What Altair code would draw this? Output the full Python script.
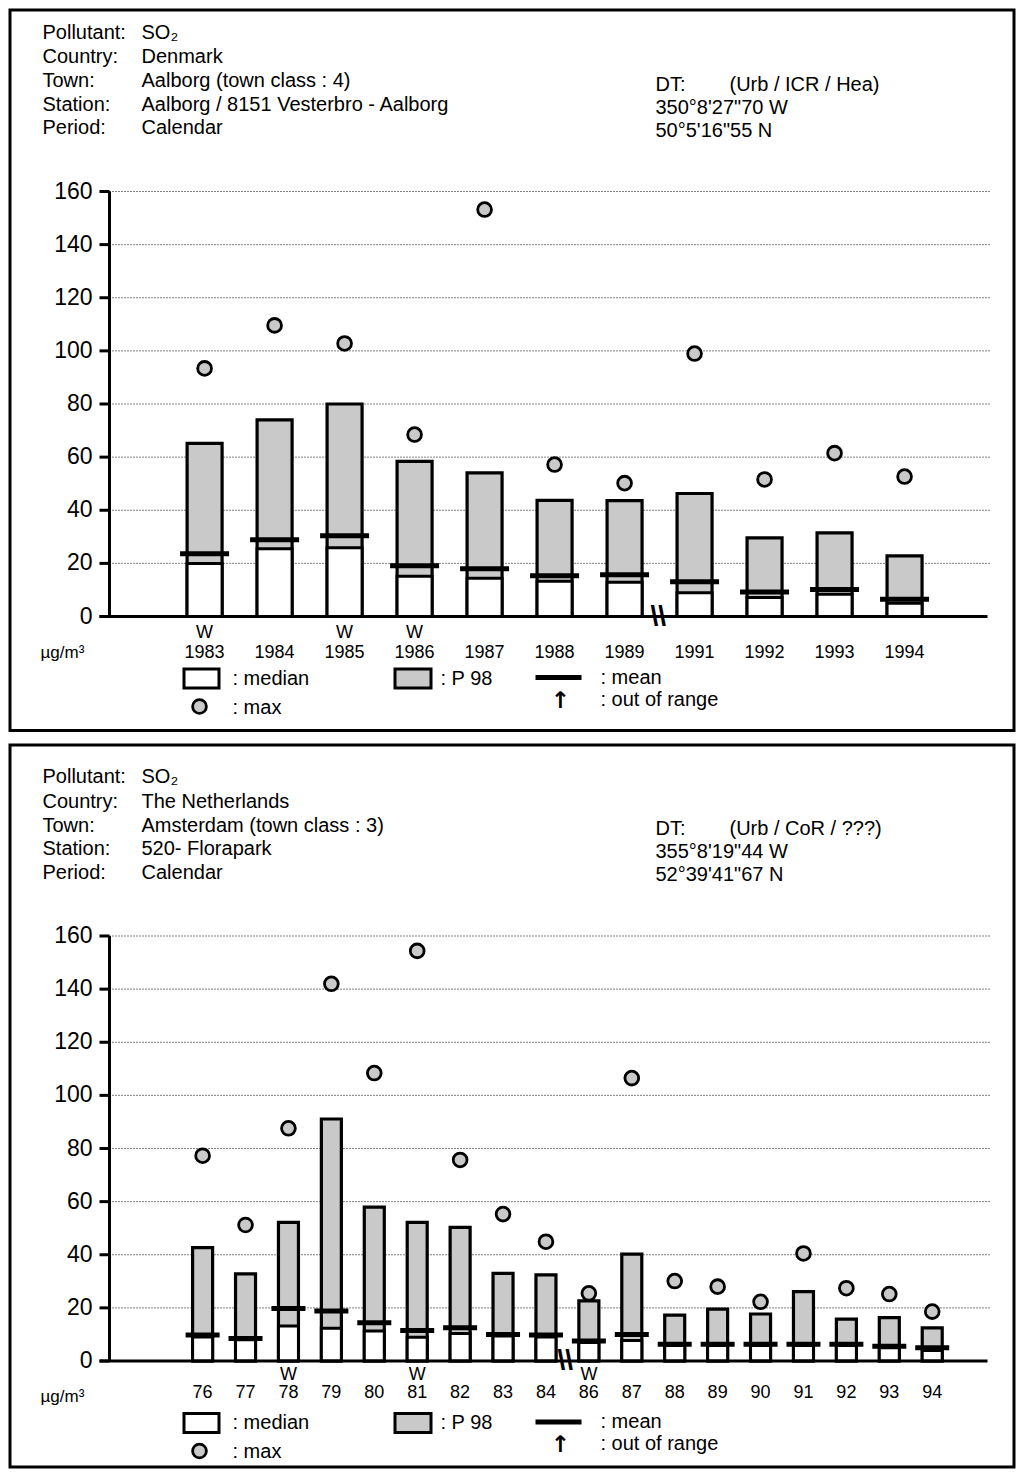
import altair as alt
import pandas as pd

FONT = "Liberation Sans"
GRAY = "#c9c9c9"
K = 425 / 160.0          # pixels per µg/m3
W = 1004                 # panel width

y_ticks = [0, 20, 40, 60, 80, 100, 120, 140, 160]

# ---------------- Panel 1 : Aalborg ----------------
dk_years = ["1983", "1984", "1985", "1986", "1987", "1988", "1989", "1991", "1992", "1993", "1994"]
dk_p98 = [65.2, 74.0, 80.0, 58.4, 54.1, 43.7, 43.6, 46.3, 29.6, 31.5, 22.8]
dk_median = [20.0, 25.5, 25.9, 15.2, 14.4, 13.3, 12.9, 8.9, 7.2, 8.4, 5.0]
dk_mean = [23.6, 28.9, 30.4, 19.1, 18.0, 15.3, 15.7, 13.1, 9.2, 10.2, 6.5]
dk_max = [93.4, 109.6, 102.8, 68.5, 153.2, 57.2, 50.2, 99.0, 51.6, 61.5, 52.7]
dk_w = ["1983", "1985", "1986"]
dk_head = ["SO₂", "Denmark", "Aalborg (town class : 4)", "Aalborg / 8151 Vesterbro - Aalborg", "Calendar"]
dk_dt = ["(Urb / ICR / Hea)", "350°8'27\"70 W", "50°5'16\"55 N"]

# ---------------- Panel 2 : Amsterdam ----------------
nl_years = ["76", "77", "78", "79", "80", "81", "82", "83", "84", "86", "87", "88", "89", "90", "91", "92", "93", "94"]
nl_p98 = [42.7, 32.8, 52.2, 91.1, 57.9, 52.2, 50.3, 33.0, 32.4, 22.6, 40.2, 17.3, 19.5, 17.7, 26.1, 15.8, 16.3, 12.5]
nl_median = [9.0, 8.0, 13.2, 12.3, 11.3, 8.9, 10.4, 9.4, 9.0, 7.0, 7.7, 5.8, 5.8, 5.8, 5.8, 5.8, 5.0, 4.0]
nl_mean = [9.8, 8.5, 19.8, 18.8, 14.4, 11.5, 12.5, 10.0, 9.8, 7.5, 10.0, 6.3, 6.3, 6.3, 6.3, 6.3, 5.6, 5.0]
nl_max = [77.3, 51.2, 87.6, 142.0, 108.4, 154.4, 75.7, 55.3, 44.9, 25.5, 106.5, 30.1, 28.0, 22.3, 40.5, 27.4, 25.2, 18.6]
nl_w = ["78", "81", "86"]
nl_head = ["SO₂", "The Netherlands", "Amsterdam (town class : 3)", "520- Florapark", "Calendar"]
nl_dt = ["(Urb / CoR / ???)", "355°8'19\"44 W", "52°39'41\"67 N"]

head_labels = ["Pollutant:", "Country:", "Town:", "Station:", "Period:"]

ONE = pd.DataFrame({"k": [0]})


def panel(years, p98, med, mean, mx, wyrs, head_vals, dt_vals, oy, c0, step,
          bar_w, tick_len, lab_y, w_y, brk, H):
    # layout constants are measured relative to the panel box top; oy = where
    # this view's top edge sits relative to that box top
    X = lambda x: x - 9.5
    Y = lambda y: y - oy

    def txt(s, x, y, size=20, align="left", font=FONT, weight="normal"):
        return alt.Chart(ONE).mark_text(
            text=s, align=align, baseline="middle", fontSize=size, font=font,
            fontWeight=weight, color="black"
        ).encode(x=alt.value(X(x)), y=alt.value(Y(y)))

    y0 = Y(616)
    yscale = alt.Scale(domain=[(y0 - H) / K, y0 / K], nice=False, zero=False)
    xscale = alt.Scale(domain=[-X(c0) / step, (W - X(c0)) / step], nice=False, zero=False)
    df = pd.DataFrame({"year": years, "p98": p98, "median": med, "mean": mean, "max": mx})
    df["idx"] = list(range(len(df)))
    df["zero"] = 0.0
    df["mlo"] = df["mean"] - 2.5 / K
    df["mhi"] = df["mean"] + 2.5 / K
    df["w"] = ["W" if y in wyrs else "" for y in years]
    xenc = alt.X("idx:Q", scale=xscale, axis=None)

    tick_df = pd.DataFrame({"v": y_ticks, "lab": [str(t) for t in y_ticks]})
    grid = alt.Chart(tick_df[tick_df.v > 0]).mark_rule(
        color="black", strokeWidth=1, strokeDash=[1, 2]
    ).encode(y=alt.Y("v:Q", scale=yscale, axis=None),
             x=alt.value(X(109)), x2=alt.value(X(990)))
    yticks = alt.Chart(tick_df).mark_rule(color="black", strokeWidth=3).encode(
        y=alt.Y("v:Q", scale=yscale, axis=None), x=alt.value(X(99)), x2=alt.value(X(109)))
    ylabels = alt.Chart(tick_df).mark_text(
        font=FONT, fontSize=23, color="black", align="right", baseline="middle"
    ).encode(y=alt.Y("v:Q", scale=yscale, axis=None), x=alt.value(X(92)), text="lab:N")

    p98_bar = alt.Chart(df).mark_bar(
        size=bar_w, fill=GRAY, stroke="black", strokeWidth=3.2
    ).encode(x=xenc, y=alt.Y("p98:Q", scale=yscale, axis=None), y2="zero:Q")
    med_bar = alt.Chart(df).mark_bar(
        size=bar_w, fill="white", stroke="black", strokeWidth=3
    ).encode(x=xenc, y=alt.Y("median:Q", scale=yscale, axis=None), y2="zero:Q")
    mean_b = alt.Chart(df).mark_bar(size=tick_len, color="black").encode(
        x=xenc, y=alt.Y("mhi:Q", scale=yscale, axis=None), y2="mlo:Q")
    pts = alt.Chart(df).mark_point(
        shape="circle", filled=True, fill=GRAY, stroke="black", strokeWidth=2.8,
        size=190, opacity=1
    ).encode(x=xenc, y=alt.Y("max:Q", scale=yscale, axis=None))

    ax_df = pd.DataFrame({"lo": [y_ticks[0]], "hi": [y_ticks[-1]]})
    yline = alt.Chart(ax_df).mark_rule(color="black", strokeWidth=3).encode(
        x=alt.value(X(109)), y=alt.Y("lo:Q", scale=yscale, axis=None), y2="hi:Q")
    xline = alt.Chart(ax_df).mark_rule(color="black", strokeWidth=3).encode(
        y=alt.Y("lo:Q", scale=yscale, axis=None), x=alt.value(X(99)), x2=alt.value(X(987)))

    brk_df = pd.DataFrame({"bx": [brk], "by": [0.0]})
    breaks = alt.Chart(brk_df).mark_text(
        text="\\\\", font=FONT, fontSize=28, fontWeight="bold", color="black",
        baseline="middle", align="center"
    ).encode(x=alt.X("bx:Q", scale=xscale, axis=None), y=alt.Y("by:Q", scale=yscale, axis=None))

    labels = alt.Chart(df).mark_text(
        fontSize=18, font=FONT, color="black", baseline="middle"
    ).encode(x=xenc, y=alt.value(Y(lab_y)), text="year:N")
    wlab = alt.Chart(df[df.w != ""]).mark_text(
        fontSize=18, font=FONT, color="black", baseline="middle"
    ).encode(x=xenc, y=alt.value(Y(w_y)), text="w:N")

    texts = []
    rows = [32, 56.5, 80.5, 104, 127.5]
    for lab, val, ry in zip(head_labels, head_vals, rows):
        texts.append(txt(lab, 42, ry))
        texts.append(txt(val, 141, ry))
    texts.append(txt("DT:", 655, 84))
    texts.append(txt(dt_vals[0], 729, 84))
    texts.append(txt(dt_vals[1], 655, 107))
    texts.append(txt(dt_vals[2], 655, 130))
    texts.append(txt("µg/m³", 40, 652, size=17))

    # legend
    leg = []
    leg.append(alt.Chart(ONE).mark_rect(fill="white", stroke="black", strokeWidth=3).encode(
        x=alt.value(X(183.5)), x2=alt.value(X(218.5)), y=alt.value(Y(668.5)), y2=alt.value(Y(687.5))))
    leg.append(alt.Chart(ONE).mark_rect(fill=GRAY, stroke="black", strokeWidth=3).encode(
        x=alt.value(X(394.5)), x2=alt.value(X(430.5)), y=alt.value(Y(668.5)), y2=alt.value(Y(687.5))))
    leg.append(alt.Chart(ONE).mark_rule(color="black", strokeWidth=5).encode(
        x=alt.value(X(535)), x2=alt.value(X(581)), y=alt.value(Y(677))))
    leg.append(alt.Chart(ONE).mark_point(
        shape="circle", filled=True, fill=GRAY, stroke="black", strokeWidth=2.8, size=190, opacity=1
    ).encode(x=alt.value(X(199)), y=alt.value(Y(706))))
    leg.append(txt("↑", 560, 700, size=23, align="center", font="DejaVu Sans", weight="bold"))
    leg.append(txt(": median", 232, 678))
    leg.append(txt(": P 98", 440, 678))
    leg.append(txt(": mean", 600, 677))
    leg.append(txt(": out of range", 600, 699))
    leg.append(txt(": max", 232, 707))

    return alt.layer(grid, p98_bar, med_bar, mean_b, pts, xline, yline, yticks, ylabels,
                     breaks, labels, wlab, *texts, *leg).properties(width=W, height=H)


top = panel(dk_years, dk_p98, dk_median, dk_mean, dk_max, dk_w, dk_head, dk_dt,
            oy=9.5, c0=201, step=70.7, bar_w=35, tick_len=49, lab_y=652, w_y=632,
            brk=6.48, H=720.5)
bottom = panel(nl_years, nl_p98, nl_median, nl_mean, nl_max, nl_w, nl_head, nl_dt,
               oy=0, c0=199, step=43.35, bar_w=20, tick_len=34, lab_y=647.5, w_y=629.5,
               brk=8.45, H=722)

chart = alt.vconcat(top, bottom, spacing=11).configure_view(
    stroke="black", strokeWidth=3
).properties(padding=0)

chart.save("out.html", embed_options={"renderer": "svg", "actions": False})
